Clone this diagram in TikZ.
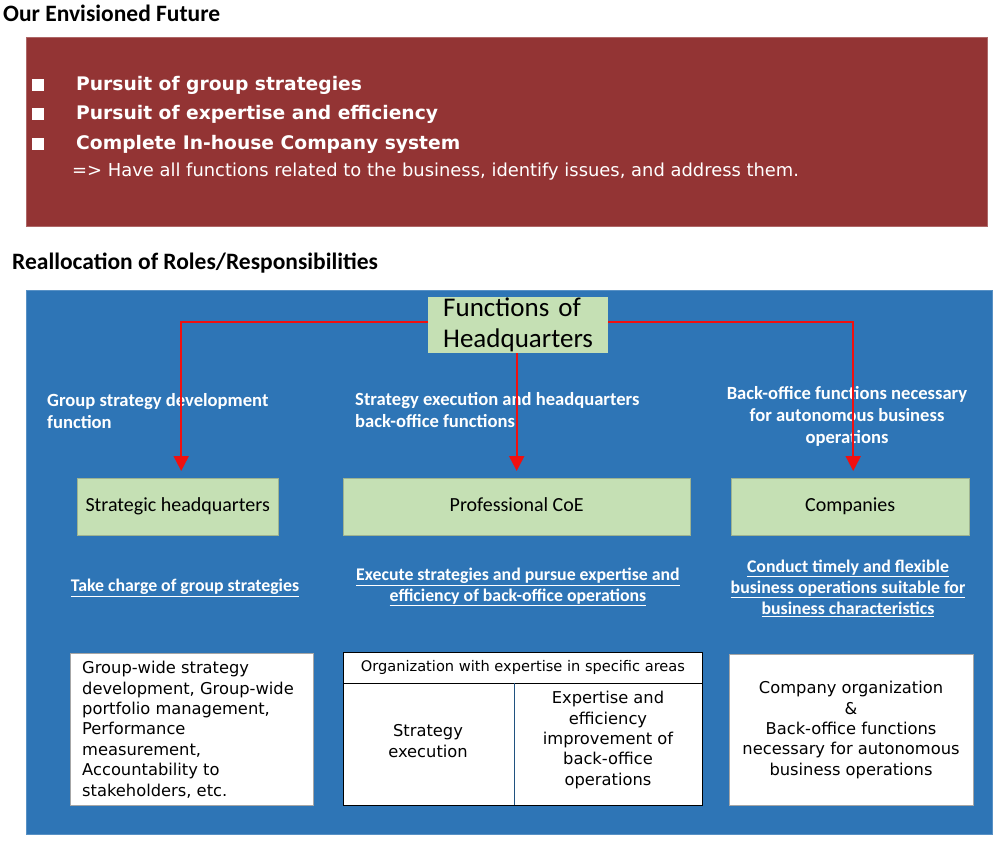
\documentclass[tikz,border=0pt]{standalone}
\usepackage{fontspec}
\setmainfont{Carlito}
\newfontfamily\verd{DejaVu Sans}
\usetikzlibrary{arrows.meta}
\definecolor{boxred}{HTML}{933434}
\definecolor{boxblue}{HTML}{2E75B6}
\definecolor{boxgreen}{HTML}{C5E0B4}
\definecolor{arrred}{HTML}{F01010}
\tikzset{
  greenbox/.style={fill=boxgreen, draw=boxgreen!80!black, line width=0.4pt, anchor=north west, inner sep=0pt, text height=14pt, text depth=4pt, font=\fontsize{20}{24}\selectfont},
  whitebox/.style={fill=white, draw=gray!70, line width=0.6pt, anchor=north west, inner sep=0pt},
  wlabel/.style={text=white, font=\bfseries\fontsize{18.6}{22}\selectfont, inner sep=0pt},
  ulabel/.style={text=white, font=\bfseries\fontsize{17.8}{21}\selectfont, inner sep=0pt, align=center},
  bullettext/.style={anchor=west, text=white, inner sep=0pt, font=\verd\bfseries\fontsize{18.7}{22}\selectfont},
  bulletsq/.style={fill=white, minimum size=11.5pt, inner sep=0pt},
  bodytext/.style={inner sep=0pt, font=\verd\fontsize{16.3}{20.4}\selectfont},
  redarrow/.style={draw=arrred, line width=2pt, -{Triangle[width=15pt,length=15pt]}, shorten >=7pt},
  heading/.style={anchor=west, inner sep=0pt, font=\bfseries\fontsize{23.5}{26}\selectfont}
}
\begin{document}
\begin{tikzpicture}[x=1pt,y=-1pt]
\useasboundingbox[fill=white] (0,0) rectangle (1000,844);
% top section
\node[heading] (t1) at (3,13) {Our Envisioned Future};
\node[fill=boxred, draw=boxred!75!white, line width=0.6pt, anchor=north west, minimum width=961pt, minimum height=189pt, inner sep=0pt] (rb) at (26,37) {};
\node[bulletsq] (b1) at (38,85) {};
\node[bulletsq] (b2) at (38,114) {};
\node[bulletsq] (b3) at (38,144) {};
\node[bullettext] (p1) at (76,85) {Pursuit of group strategies};
\node[bullettext] (p2) at (76,114) {Pursuit of expertise and efficiency};
\node[bullettext] (p3) at (76,144) {Complete In-house Company system};
\node[anchor=west, text=white, inner sep=0pt, font=\verd\fontsize{17.9}{21}\selectfont] (p4) at (72,172) {=> Have all functions related to the business, identify issues, and address them.};
% second section
\node[heading] (t2) at (12,263) {Reallocation of Roles/Responsibilities};
\node[fill=boxblue, draw=boxblue!80!white, anchor=north west, minimum width=966pt, minimum height=544pt, inner sep=0pt] (bb) at (26,290) {};
\node[fill=boxgreen, anchor=north west, minimum width=180pt, minimum height=56pt, text width=150pt, inner xsep=15pt, inner ysep=0pt, align=left, font=\fontsize{27}{31}\selectfont] (fh) at (428,297) {Functions of\\Headquarters};
% labels
\node[wlabel, anchor=north west, align=left] (l1) at (47,393) {Group strategy development\\function};
\node[wlabel, anchor=north west, align=left] (l2) at (355,392) {Strategy execution and headquarters\\back-office functions};
\node[wlabel, anchor=north, align=center] (l3) at (847,386) {Back-office functions necessary\\for autonomous business\\operations};
% green boxes
\node[greenbox, minimum width=201pt, minimum height=57pt] (sh) at (77,478) {Strategic headquarters};
\node[greenbox, minimum width=347pt, minimum height=57pt] (coe) at (343,478) {Professional CoE};
\node[greenbox, minimum width=238pt, minimum height=57pt] (co) at (731,478) {Companies};
% arrows
\draw[redarrow] ([yshift=3pt]fh.west) -| ([xshift=3.5pt]sh.north);
\draw[redarrow] (fh.south -| coe.north) -- (coe.north);
\draw[redarrow] ([yshift=3pt]fh.east) -| ([xshift=3pt]co.north);
% underlined
\node[ulabel] (u1) at (185,588) {\underline{Take charge of group strategies}};
\node[ulabel] (u2) at (518,587) {\underline{Execute strategies and pursue expertise and}\\\underline{efficiency of back-office operations}};
\node[ulabel] (u3) at (848,588) {\underline{Conduct timely and flexible}\\\underline{business operations suitable for}\\\underline{business characteristics}};
% white boxes
\node[whitebox, minimum width=243pt, minimum height=152pt] (w1) at (70,653) {};
\node[bodytext, anchor=north west, align=left] (w1t) at (82,661) {Group-wide strategy\\development, Group-wide\\portfolio management,\\Performance\\measurement,\\Accountability to\\stakeholders, etc.};
\node[fill=white, draw=black, line width=0.8pt, anchor=north west, minimum width=359pt, minimum height=153pt, inner sep=0pt] (w2) at (343,652) {};
\node[draw=black, line width=0.8pt, anchor=north west, minimum width=359pt, minimum height=31pt, inner sep=0pt, font=\verd\fontsize{14.6}{17}\selectfont] (w2h) at (343,652) {Organization with expertise in specific areas};
\coordinate (dtop) at (514,683);
\coordinate (dbot) at (514,805);
\draw[boxblue!70!black, line width=0.8pt] (dtop) -- (dbot);
\node[bodytext, align=center] (w2a) at (428,741) {Strategy\\execution};
\node[bodytext, align=center] (w2b) at (608,740) {Expertise and\\efficiency\\improvement of\\back-office\\operations};
\node[whitebox, minimum width=244pt, minimum height=151pt] (w3) at (729,654) {};
\node[bodytext, align=center] (w3t) at (851,730) {Company organization\\\&\\Back-office functions\\necessary for autonomous\\business operations};
\end{tikzpicture}
\end{document}
